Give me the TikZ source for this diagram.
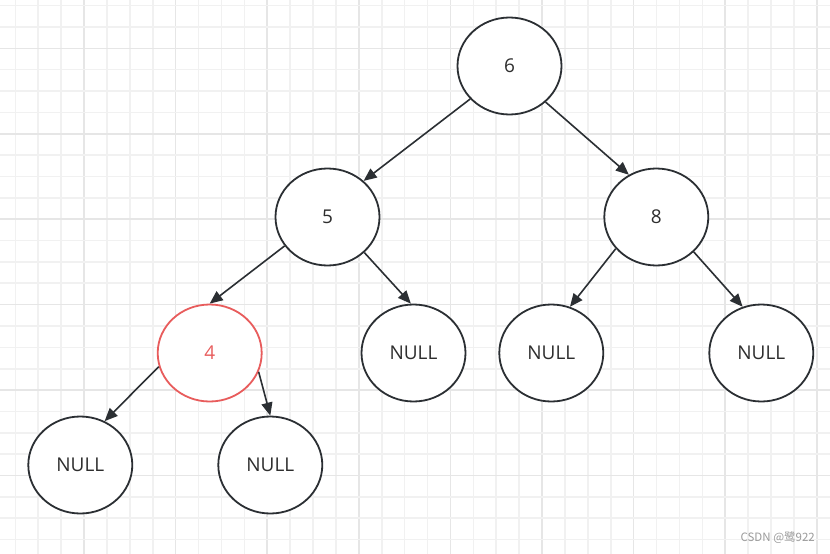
\documentclass[tikz,border=0pt]{standalone}
\usepackage{fontspec}
\setmainfont{Open Sans}
\newfontfamily\cjkfont{Noto Sans CJK SC}
\usetikzlibrary{shapes.geometric,arrows.meta}
\definecolor{gridminor}{HTML}{F1F1F1}
\definecolor{gridmajor}{HTML}{E6E6E6}
\definecolor{edgecol}{HTML}{2B2F33}
\definecolor{txtcol}{HTML}{2E2E2E}
\definecolor{redcol}{HTML}{E85C5C}
\definecolor{wmcol}{HTML}{9A9A9A}
\tikzset{
  treenode/.style={ellipse, draw=edgecol, line width=1.8pt, fill=white,
    minimum width=104pt, minimum height=97pt, inner sep=0pt,
    text=txtcol, font=\fontsize{19}{22}\selectfont},
  rednode/.style={treenode, draw=redcol, text=redcol},
  link/.style={draw=edgecol, line width=1.6pt,
    -{Triangle[length=13pt,width=11pt]}},
}
\begin{document}
\begin{tikzpicture}[x=1pt,y=-1pt]
\fill[white] (0,0) rectangle (830,554);
\useasboundingbox (0,0) rectangle (830,554);
% grid
\foreach \i in {0,...,35}{
  \pgfmathsetmacro{\xx}{15.3+22.9*\i}
  \pgfmathtruncatemacro{\m}{mod(\i,4)}
  \ifnum\m=3
    \draw[gridmajor,line width=1.6pt] (\xx,0) -- (\xx,554);
  \else
    \draw[gridminor,line width=1.6pt] (\xx,0) -- (\xx,554);
  \fi
}
\foreach \j in {0,...,25}{
  \pgfmathsetmacro{\yy}{5.6+21.36*\j}
  \pgfmathtruncatemacro{\m}{mod(\j,4)}
  \ifnum\m=2
    \draw[gridmajor,line width=1.6pt] (0,\yy) -- (830,\yy);
  \else
    \draw[gridminor,line width=1.6pt] (0,\yy) -- (830,\yy);
  \fi
}
% nodes
\node[treenode] (six) at (509.5,66) {6};
\node[treenode] (five) at (327.5,217) {5};
\node[treenode] (eight) at (656.3,217) {8};
\node[rednode] (four) at (209.7,353) {4};
\node[treenode] (n1) at (413.5,353) {NULL};
\node[treenode] (n2) at (551.3,353) {NULL};
\node[treenode] (n3) at (761.3,353) {NULL};
\node[treenode] (n4) at (80.3,465) {NULL};
\node[treenode] (n5) at (270.3,465) {NULL};
% edges
\draw[link] (six.220) -- (five.45);
\draw[link] (six.315) -- (eight.123);
\draw[link] (five.214) -- (four.90);
\draw[link] (five.316) -- (n1.93);
\draw[link] (eight.218) -- (n2.68);
\draw[link] (eight.317) -- (n3.112);
\draw[link] (four.195) -- (n4.61);
\draw[link] (four.339) -- (n5.90);
% watermark
\node[anchor=east, text=wmcol, font=\cjkfont\fontsize{11.5}{13}\selectfont, inner sep=0pt] (wm) at (815,538) {CSDN @鹭922};
\end{tikzpicture}
\end{document}
